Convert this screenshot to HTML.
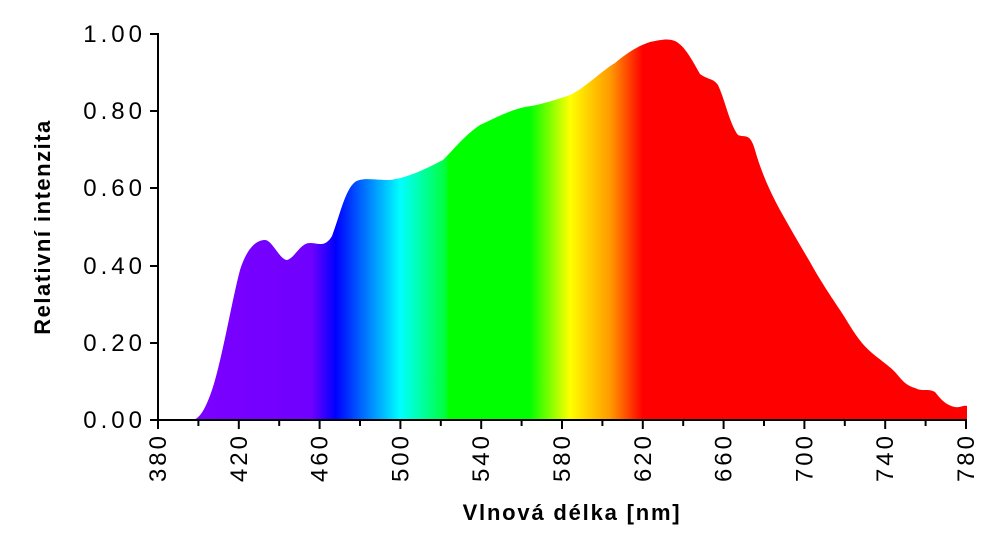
<!DOCTYPE html>
<html><head><meta charset="utf-8"><style>
html,body{margin:0;padding:0;background:#fff;}
svg{display:block;font-family:"Liberation Sans","DejaVu Sans",sans-serif;}
</style></head><body>
<svg width="1000" height="550" viewBox="0 0 1000 550">
<defs>
<linearGradient id="g" gradientUnits="userSpaceOnUse" x1="158" y1="0" x2="966" y2="0">
<stop offset="0" stop-color="#7f00ff"/>
<stop offset="0.19" stop-color="#7000ff"/>
<stop offset="0.22" stop-color="#0000ff"/>
<stop offset="0.30" stop-color="#00ffff"/>
<stop offset="0.355" stop-color="#00ff40"/>
<stop offset="0.36" stop-color="#00ff00"/>
<stop offset="0.46" stop-color="#00ff00"/>
<stop offset="0.51" stop-color="#ffff00"/>
<stop offset="0.56" stop-color="#ff9900"/>
<stop offset="0.60" stop-color="#ff0000"/>
<stop offset="1" stop-color="#ff0000"/>
</linearGradient>
</defs>
<path fill="url(#g)" d="M193,420 C200,418 205,410 212,390 C222,360 232,300 240,270 C248,245 258,240 265,240 C272,240 280,260 287,260 C295,258 300,243 310,243 C318,243 325,248 332,236 C340,215 345,190 355,182 C362,177 375,180 390,180 C405,178 420,172 443,160 C455,148 465,135 480,125 C495,118 510,110 525,107 C540,105 555,100 570,95 C585,88 600,72 615,63 C628,52 640,45 650,42 C660,40 668,38 675,41 C685,46 692,60 700,74 C708,80 713,78 718,85 C725,100 730,125 738,135 C745,138 750,132 755,150 C762,175 772,195 780,210 C790,228 800,245 810,262 C820,280 828,292 840,310 C848,322 853,332 862,343 C872,355 885,362 895,372 C902,380 905,385 915,388 C922,392 928,388 935,392 C940,398 945,405 955,407 C960,408 963,405 967,406 L967,420 Z"/>
<g stroke="#000" stroke-width="2" fill="none">
<line x1="158" y1="33" x2="158" y2="421"/>
<line x1="157" y1="420" x2="967" y2="420"/>
</g>
<g stroke="#000" stroke-width="2">
<line x1="150" y1="420" x2="158" y2="420"/><line x1="150" y1="343" x2="158" y2="343"/><line x1="150" y1="266" x2="158" y2="266"/><line x1="150" y1="188" x2="158" y2="188"/><line x1="150" y1="111" x2="158" y2="111"/><line x1="150" y1="34" x2="158" y2="34"/>
</g>
<g stroke="#000" stroke-width="2" id="xt"></g>
<g font-size="24" fill="#000" text-anchor="end" letter-spacing="4">
<text x="146" y="428">0.00</text><text x="146" y="351">0.20</text><text x="146" y="274">0.40</text><text x="146" y="196">0.60</text><text x="146" y="119">0.80</text><text x="146" y="42">1.00</text>
</g>
<g font-size="24" fill="#000" text-anchor="end" letter-spacing="3" id="xl"></g>
<text x="572" y="520" font-size="22" font-weight="bold" text-anchor="middle" letter-spacing="1.8">Vlnová délka [nm]</text>
<text transform="translate(50,227) rotate(-90)" font-size="22" font-weight="bold" text-anchor="middle" letter-spacing="1.5">Relativní intenzita</text>
<script>
(function(){var ns="http://www.w3.org/2000/svg",xt=document.getElementById("xt"),xl=document.getElementById("xl");
for(var i=0;i<=20;i++){var x=158+i*40.4;var l=document.createElementNS(ns,"line");l.setAttribute("x1",x);l.setAttribute("x2",x);l.setAttribute("y1",420);l.setAttribute("y2",i%2?426:429);xt.appendChild(l);
if(i%2==0){var t=document.createElementNS(ns,"text");t.setAttribute("transform","translate("+(x+8)+",433) rotate(-90)");t.textContent=380+i*20;xl.appendChild(t);}}})();
</script>
</svg>
</body></html>
